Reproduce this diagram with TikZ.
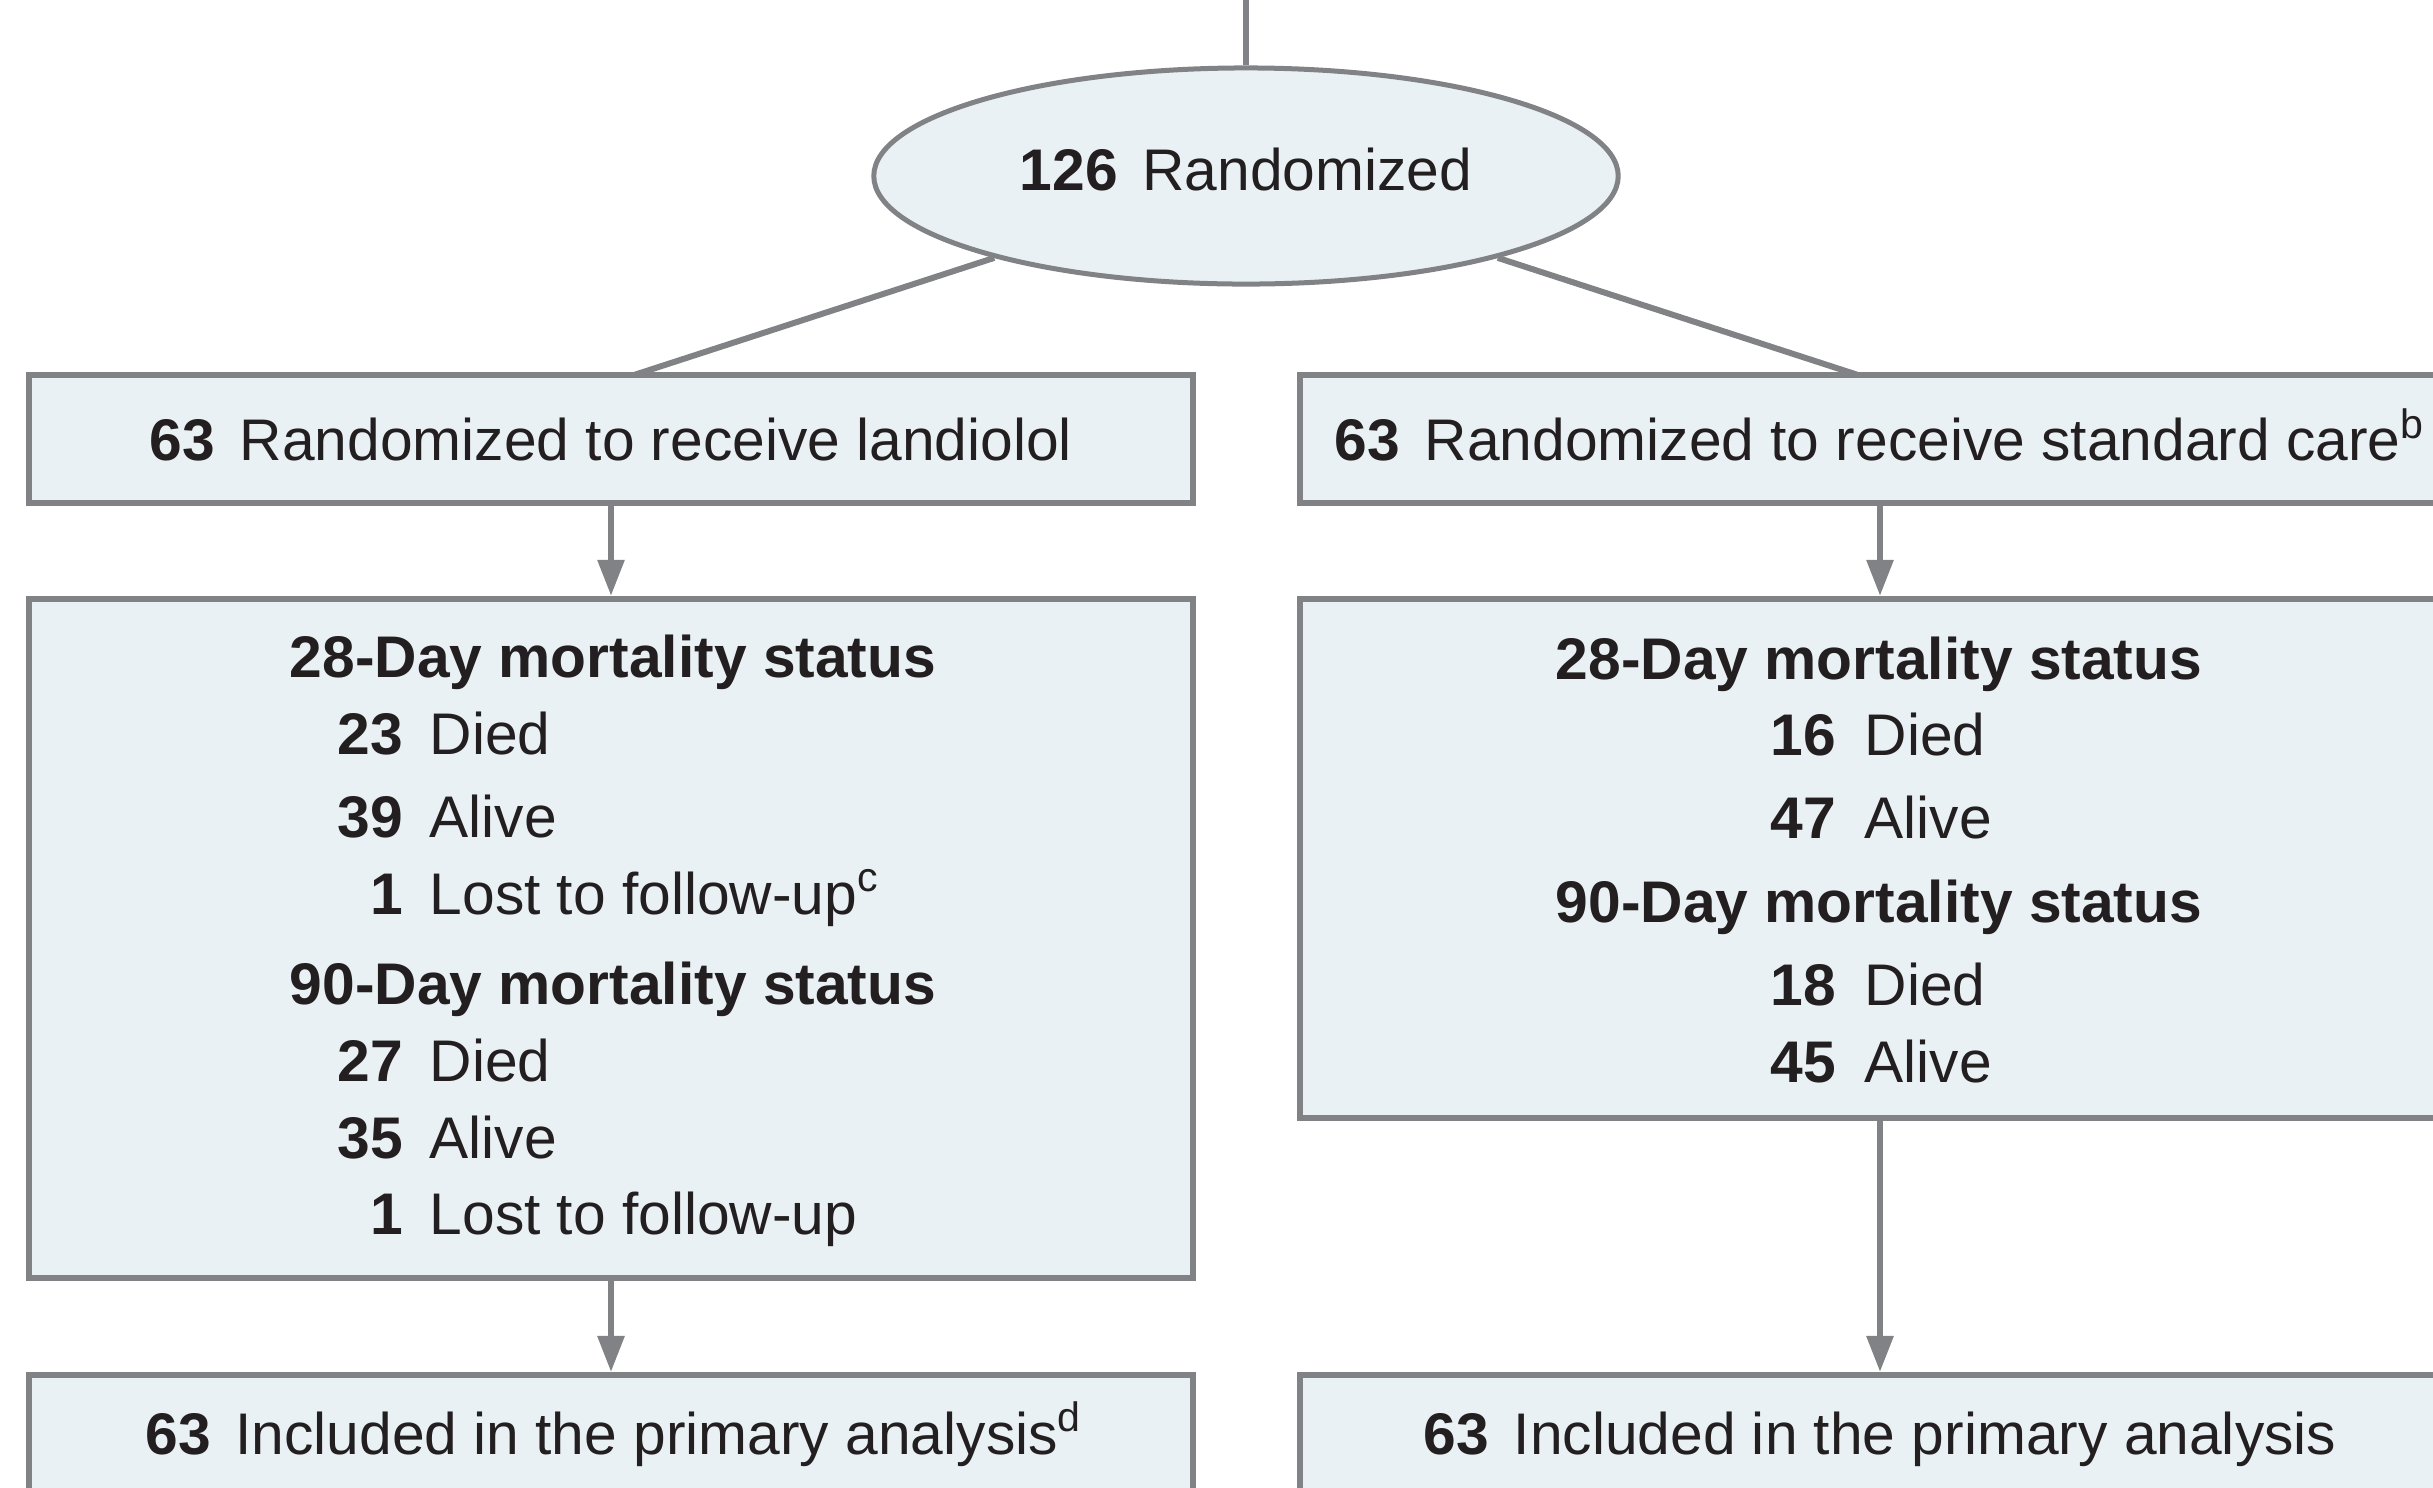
\documentclass[tikz,border=0pt]{standalone}
\usepackage{fontspec}
\setmainfont{Liberation Sans}
\usetikzlibrary{shapes.geometric, arrows.meta}

\definecolor{boxline}{HTML}{818285}
\definecolor{boxfill}{HTML}{E9F1F4}
\definecolor{inkcol}{HTML}{231F20}

\newcommand{\cnt}[2]{\textbf{#1}\hspace{0.42em}#2}

\begin{document}
\begin{tikzpicture}[
    x=0.01cm, y=-0.01cm,
    box/.style={rectangle, draw=boxline, fill=boxfill, line width=0.06cm, inner sep=0pt, text height=12pt, text depth=0pt, text=inkcol, font=\fontsize{16.7pt}{20pt}\selectfont},
    oval/.style={ellipse, draw=boxline, fill=boxfill, line width=0.05cm, inner sep=0pt, minimum width=7.44cm, minimum height=2.16cm, text height=12pt, text depth=4pt, text=inkcol, font=\fontsize{16.7pt}{20pt}\selectfont},
    txt/.style={inner sep=0pt, text=inkcol, font=\fontsize{16.7pt}{20pt}\selectfont},
    flow/.style={draw=boxline, line width=0.06cm},
    arr/.style={flow, -{Triangle[width=0.26cm, length=0.36cm]}}
]
    \useasboundingbox (0,0) rectangle (2433,1487);

    % Randomization
    \node[oval] (rand) at (1246,176) {\cnt{126}{Randomized}};

    % Groups
    \node[box, minimum width=11.64cm, minimum height=1.28cm] (lrand) at (611,439) {\cnt{63}{Randomized to receive landiolol}};
    \node[box, minimum width=11.60cm, minimum height=1.28cm] (rrand) at (1880,439) {\cnt{63}{Randomized to receive standard care\textsuperscript{b}}};

    % Mortality boxes
    \node[box, minimum width=11.64cm, minimum height=6.79cm] (lmort) at (611,938.5) {};
    \node[box, minimum width=11.60cm, minimum height=5.19cm] (rmort) at (1880,858.5) {};

    % Analysis boxes
    \node[box, minimum width=11.64cm, minimum height=2.50cm] (lincl) at (611,1500) {};
    \node[box, minimum width=11.60cm, minimum height=2.50cm] (rincl) at (1880,1500) {};

    % Landiolol mortality
    \node[txt, anchor=base] (lh28) at (613,677) {\textbf{28-Day mortality status}};
    \node[txt, anchor=base east] (ln28d) at (404,754) {\textbf{23}};
    \node[txt, anchor=base west] (lt28d) at (429,754) {Died};
    \node[txt, anchor=base east] (ln28a) at (404,837) {\textbf{39}};
    \node[txt, anchor=base west] (lt28a) at (429,837) {Alive};
    \node[txt, anchor=base east] (ln28l) at (404,914) {\textbf{1}};
    \node[txt, anchor=base west] (lt28l) at (429,914) {Lost to follow-up\textsuperscript{c}};
    \node[txt, anchor=base] (lh90) at (613,1004) {\textbf{90-Day mortality status}};
    \node[txt, anchor=base east] (ln90d) at (404,1081) {\textbf{27}};
    \node[txt, anchor=base west] (lt90d) at (429,1081) {Died};
    \node[txt, anchor=base east] (ln90a) at (404,1158) {\textbf{35}};
    \node[txt, anchor=base west] (lt90a) at (429,1158) {Alive};
    \node[txt, anchor=base east] (ln90l) at (404,1234) {\textbf{1}};
    \node[txt, anchor=base west] (lt90l) at (429,1234) {Lost to follow-up};

    % Standard care mortality
    \node[txt, anchor=base] (rh28) at (1879,679) {\textbf{28-Day mortality status}};
    \node[txt, anchor=base east] (rn28d) at (1837,755) {\textbf{16}};
    \node[txt, anchor=base west] (rt28d) at (1864,755) {Died};
    \node[txt, anchor=base east] (rn28a) at (1837,838) {\textbf{47}};
    \node[txt, anchor=base west] (rt28a) at (1864,838) {Alive};
    \node[txt, anchor=base] (rh90) at (1879,922) {\textbf{90-Day mortality status}};
    \node[txt, anchor=base east] (rn90d) at (1837,1005) {\textbf{18}};
    \node[txt, anchor=base west] (rt90d) at (1864,1005) {Died};
    \node[txt, anchor=base east] (rn90a) at (1837,1082) {\textbf{45}};
    \node[txt, anchor=base west] (rt90a) at (1864,1082) {Alive};

    % Analysis texts
    \node[txt, anchor=base] (linclt) at (614,1454) {\cnt{63}{Included in the primary analysis\textsuperscript{d}}};
    \node[txt, anchor=base] (rinclt) at (1880,1454) {\cnt{63}{Included in the primary analysis}};

    % Connectors
    \coordinate (top) at (1246,0);
    \coordinate (lhit) at (634,375);
    \coordinate (rhit) at (1858,375);
    \draw[flow] (top) -- (rand);
    \draw[flow] (rand) -- (lhit);
    \draw[flow] (rand) -- (rhit);
    \draw[arr] (lrand) -- (lmort);
    \draw[arr] (rrand) -- (rmort);
    \draw[arr] (lmort) -- (lincl);
    \draw[arr] (rmort) -- (rincl);

\end{tikzpicture}
\end{document}
